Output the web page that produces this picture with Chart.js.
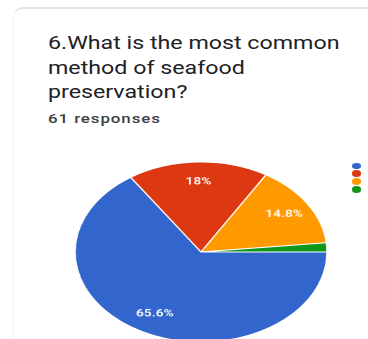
<!DOCTYPE html>
<html>
<head>
<meta charset="utf-8">
<script src="https://cdn.jsdelivr.net/npm/chart.js@4.4.1/dist/chart.umd.min.js"></script>
<style>
    html, body { margin: 0; padding: 0; width: 368px; height: 339px; overflow: hidden; background: #fff; font-family: Roboto, "Noto Sans", sans-serif; }
    .card { position: absolute; left: 13px; top: 7px; width: 420px; height: 400px; border-top: 2px solid #e3e3ea; border-left: 1px solid #f2f2f5; border-radius: 10px 0 0 0; }
    .title { position: absolute; left: 48px; top: 31px; font-size: 18px; line-height: 24.5px; color: #202124; white-space: nowrap; transform: scaleX(1.29); transform-origin: 0 0; }
    .sub { position: absolute; left: 48px; top: 111px; font-size: 13px; font-weight: 500; letter-spacing: 0.7px; color: #3c4043; white-space: nowrap; transform: scaleX(1.3); transform-origin: 0 0; }
    #pieBox { position: absolute; left: 0; top: 150px; width: 300px; height: 200px; transform: scaleX(1.4); transform-origin: 0 0; }
    #legend { position: absolute; left: 352px; top: 162.5px; width: 60px; height: 34px; }
    #legend div { position: absolute; left: 0; width: 9px; height: 6.5px; border-radius: 50%; }
</style>
</head>
<body>
<div class="card"></div>
<div class="title">6.What is the most common<br>method of seafood<br>preservation?</div>
<div class="sub">61 responses</div>
<div id="pieBox"><canvas id="pieChart" width="300" height="200"></canvas></div>
<div id="legend"></div>

<script>
// answers (legend text is cut off in the picture)
const methods = ['Freezing', 'Salting', 'Drying', 'Smoking'];
const responses = [40, 11, 9, 1];
const sliceColors = ['#3366cc', '#dc3912', '#ff9900', '#109618'];

const total = responses.reduce((a, b) => a + b, 0);

function pctText(v) {
    const p = Math.round(v / total * 1000) / 10;
    return (p % 1 === 0 ? p.toFixed(0) : p.toFixed(1)) + '%';
}

// percent labels inside the slices, like google forms does
const sliceLabels = {
    id: 'sliceLabels',
    afterDatasetsDraw(chart) {
        const ctx = chart.ctx;
        const meta = chart.getDatasetMeta(0);
        meta.data.forEach((arc, i) => {
            const v = responses[i];
            if (v / total < 0.05) return;
            const p = arc.getProps(['x', 'y', 'startAngle', 'endAngle', 'outerRadius'], true);
            const mid = (p.startAngle + p.endAngle) / 2;
            const r = p.outerRadius * 0.78;
            ctx.save();
            ctx.fillStyle = 'rgba(255,255,255,0.92)';
            ctx.font = 'bold 9.8px Roboto';
            ctx.textAlign = 'center';
            ctx.textBaseline = 'middle';
            ctx.fillText(pctText(v), p.x + Math.cos(mid) * r, p.y + Math.sin(mid) * r);
            ctx.restore();
        });
    }
};

// legend dots from the chart data; the label text sits past the right edge
const htmlLegend = {
    id: 'htmlLegend',
    afterUpdate(chart) {
        const box = document.getElementById('legend');
        box.innerHTML = '';
        chart.data.labels.forEach((label, i) => {
            const dot = document.createElement('div');
            dot.style.top = (i * 7.9) + 'px';
            dot.style.background = chart.data.datasets[0].backgroundColor[i];
            dot.title = label;
            box.appendChild(dot);
        });
    }
};

const ctx = document.getElementById('pieChart').getContext('2d');
const chart = new Chart(ctx, {
    type: 'pie',
    data: {
        labels: methods,
        datasets: [{
            data: responses,
            backgroundColor: sliceColors,
            borderColor: '#ffffff',
            borderWidth: 1
        }]
    },
    options: {
        responsive: false,
        animation: false,
        devicePixelRatio: 2,
        rotation: 90,
        radius: 90,
        layout: {
            padding: { left: 53.6, right: 66.4, top: 12, bottom: 8 }
        },
        plugins: {
            legend: { display: false },
            tooltip: { enabled: false }
        }
    },
    plugins: [sliceLabels, htmlLegend]
});
</script>
</body>
</html>
